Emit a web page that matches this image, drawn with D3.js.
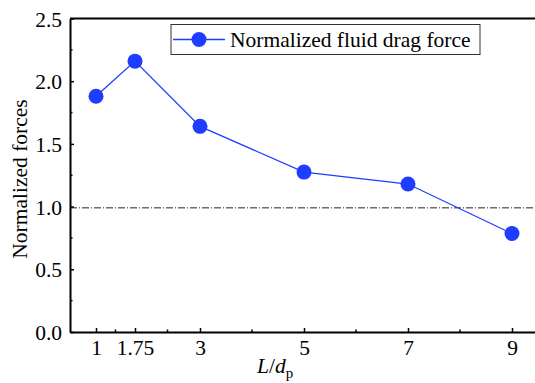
<!DOCTYPE html>
<html><head><meta charset="utf-8">
<script src="https://cdn.jsdelivr.net/npm/d3@7"></script>
<style>body{margin:0;background:#fff}svg{display:block}svg text{font-family:'Liberation Serif','Times New Roman',serif !important}</style>
</head><body><svg id="c" width="535" height="383"></svg>
<script>
const xValues = [1, 1.75, 3, 5, 7, 9];
const dragForce = [1.88, 2.16, 1.64, 1.275, 1.18, 0.785];
const xTickValues = [1, 1.75, 3, 5, 7, 9];
const xTickLabels = ["1", "1.75", "3", "5", "7", "9"];
const yTickValues = [0, 0.5, 1.0, 1.5, 2.0, 2.5];
const referenceLevel = 0.99;
const seriesName = "Normalized fluid drag force";

const FONT = "'Liberation Serif','Times New Roman',serif";
const FS = "21.5px";
const svg = d3.select("#c");
const x = d3.scaleLinear().domain([0.5, 9.5]).range([70, 538]);
const y = d3.scaleLinear().domain([0, 2.5]).range([332, 18.5]);
const blue = "#1f3dff";

// reference line
svg.append("line").attr("x1", 70).attr("x2", 535)
  .attr("y1", y(referenceLevel)).attr("y2", y(referenceLevel))
  .attr("stroke", "#222").attr("stroke-width", 1)
  .attr("stroke-dasharray", "7,2,1,2");

// axes
const yAxis = d3.axisLeft(y).tickValues(yTickValues).tickFormat(d3.format(".1f")).tickSizeInner(-4).tickSizeOuter(0).tickPadding(8);
const gy = svg.append("g").attr("transform", "translate(70,0)").call(yAxis);
const yMinor = d3.range(0.25, 2.5, 0.5);
svg.append("g").selectAll("line").data(yMinor).join("line")
  .attr("x1", 70).attr("x2", 72.5).attr("y1", d => y(d)).attr("y2", d => y(d))
  .attr("stroke", "#000").attr("stroke-width", 1.5);

const xAxis = d3.axisBottom(x).tickValues(xTickValues).tickFormat((d, i) => xTickLabels[i]).tickSizeInner(-4).tickSizeOuter(0).tickPadding(8);
const gx = svg.append("g").attr("transform", "translate(0,332)").call(xAxis);
const xMinor = xTickValues.slice(1).map((v, i) => (v + xTickValues[i]) / 2);
svg.append("g").selectAll("line").data(xMinor).join("line")
  .attr("x1", d => x(d)).attr("x2", d => x(d)).attr("y1", 332).attr("y2", 329.5)
  .attr("stroke", "#000").attr("stroke-width", 1.5);

[gx, gy].forEach(g => {
  g.attr("font-family", FONT).attr("font-size", 21.5);
  g.select(".domain").attr("stroke", "#000").attr("stroke-width", 2);
  g.selectAll(".tick line").attr("stroke", "#000").attr("stroke-width", 1.5);
  g.selectAll(".tick text").attr("fill", "#000").attr("font-family", FONT).style("font-size", FS);
});
gy.selectAll(".tick text").attr("dy", "0.35em");
gx.selectAll(".tick text").attr("dy", "0.71em");

// top border
svg.append("line").attr("x1", 70).attr("x2", 535).attr("y1", 18.5).attr("y2", 18.5).attr("stroke", "#000").attr("stroke-width", 2);

// series
const pts = xValues.map((v, i) => [v, dragForce[i]]);
svg.append("path").datum(pts)
  .attr("d", d3.line().x(d => x(d[0])).y(d => y(d[1])))
  .attr("fill", "none").attr("stroke", blue).attr("stroke-width", 1.3);
svg.append("g").selectAll("circle").data(pts).join("circle")
  .attr("cx", d => x(d[0])).attr("cy", d => y(d[1])).attr("r", 7.5).attr("fill", blue);

// legend
const lg = svg.append("g");
lg.append("rect").attr("x", 171).attr("y", 24.5).attr("width", 309).attr("height", 30)
  .attr("fill", "#fff").attr("stroke", "#333").attr("stroke-width", 1);
lg.append("line").attr("x1", 173).attr("x2", 225).attr("y1", 39.5).attr("y2", 39.5).attr("stroke", blue).attr("stroke-width", 1.3);
lg.append("circle").attr("cx", 199).attr("cy", 39.5).attr("r", 7.5).attr("fill", blue);
lg.append("text").attr("x", 230).attr("y", 47).attr("font-family", FONT).style("font-size", FS).text(seriesName);

// axis titles
svg.append("text").attr("transform", "translate(27,179) rotate(-90)").attr("text-anchor", "middle")
  .attr("font-family", FONT).style("font-size", FS).text("Normalized forces");
const xt = svg.append("text").attr("x", 257).attr("y", 373).attr("font-family", FONT).style("font-size", FS);
xt.append("tspan").style("font-style", "italic").text("L");
xt.append("tspan").text("/");
xt.append("tspan").style("font-style", "italic").text("d");
xt.append("tspan").attr("dy", 5).style("font-size", "15px").text("p");
</script></body></html>
